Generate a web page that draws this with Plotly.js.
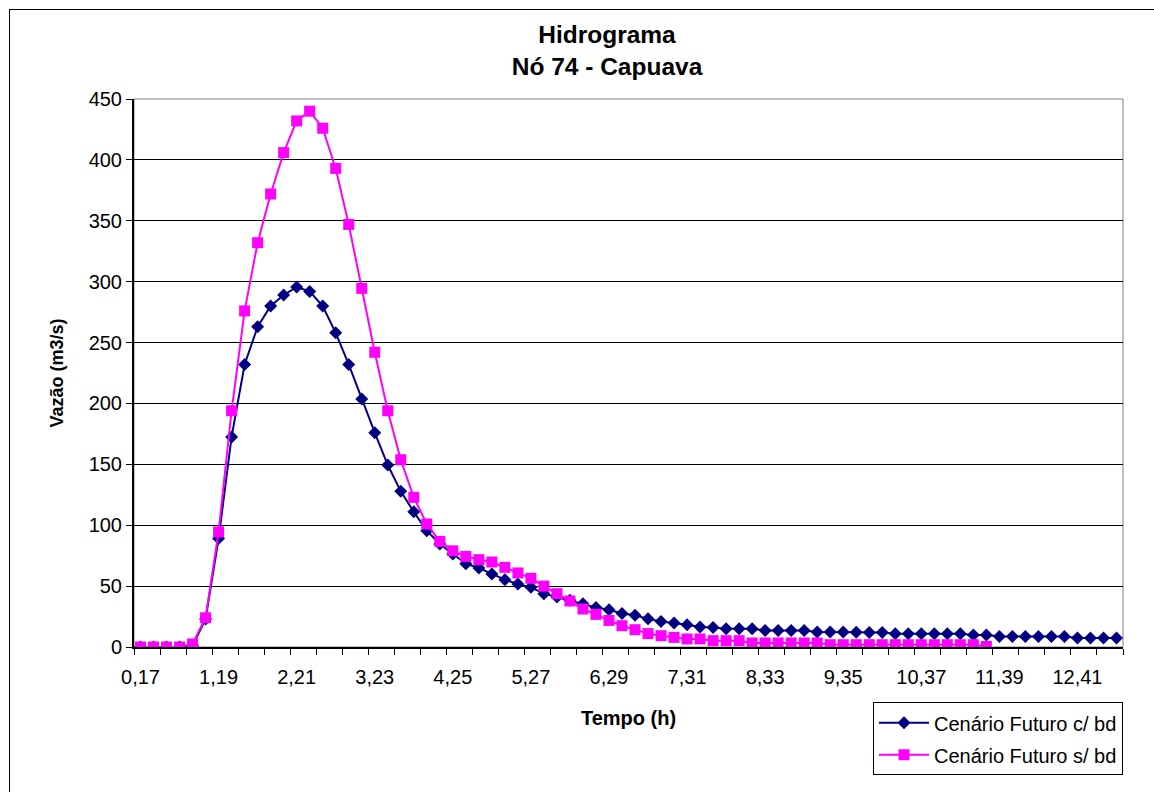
<!DOCTYPE html>
<html>
<head>
<meta charset="utf-8">
<script src="https://cdn.plot.ly/plotly-3.0.1.min.js"></script>
<style>
  html, body { margin: 0; padding: 0; background: #fff; }
  #wrap { position: relative; width: 1154px; height: 792px; overflow: hidden; }
  #chart { width: 1154px; height: 792px; }
  #frame { position: absolute; left: 9px; top: 9px; width: 1200px; height: 800px;
           border-left: 1px solid #000; border-top: 1px solid #000; pointer-events: none; }
</style>
</head>
<body>
<div id="wrap">
  <div id="chart"></div>
  <div id="frame"></div>
</div>
<script>
// Time categories (h)
const times = [0.17,0.34,0.51,0.68,0.85,1.02,1.19,1.36,1.53,1.70,1.87,2.04,2.21,2.38,2.55,2.72,2.89,3.06,3.23,3.40,
  3.57,3.74,3.91,4.08,4.25,4.42,4.59,4.76,4.93,5.10,5.27,5.44,5.61,5.78,5.95,6.12,6.29,6.46,6.63,6.80,
  6.97,7.14,7.31,7.48,7.65,7.82,7.99,8.16,8.33,8.50,8.67,8.84,9.01,9.18,9.35,9.52,9.69,9.86,10.03,10.20,
  10.37,10.54,10.71,10.88,11.05,11.22,11.39,11.56,11.73,11.90,12.07,12.24,12.41,12.58,12.75,12.92];

// Cenário Futuro c/ bd (m3/s)
const comBD = [0,0,0,0,1,23,89,172.5,232,263,
  280,289,295.6,292,280,258,232,203.6,176,149.4,
  127.8,111,95.5,84.6,76.4,68.4,64.9,60,55.3,51.7,
  49,43.8,41,38.3,35.6,32.5,30.6,27.5,26,23.1,
  21,19.7,18.3,16.4,16.1,15,15,15,13.6,13.6,
  13.6,13.6,12.3,12.3,12.3,12.2,12,12,10.9,10.9,
  10.9,10.9,10.9,10.9,9.8,9.8,8.7,8.7,8.7,8.7,
  8.7,8.7,7.4,7.4,7.4,7.4];

// Cenário Futuro s/ bd (m3/s)
const semBD = [0,0,0,0,2.5,24,94.5,194,276,332,
  372,406,432,440,426,393,347,294.5,242,194,
  153.8,122.9,101,86.7,79,74.4,71.7,69.8,65.4,60.8,
  56.4,50,43.8,37.8,31.2,26.8,21.8,17.5,14.2,11,
  9.3,7.9,6.6,6.6,5.2,5.2,5.2,3.3,3.3,3.3,
  3.3,3.3,3.3,1.9,1.9,1.9,1.9,1.9,1.9,1.9,
  1.9,1.9,1.9,1.9,1.9,0.5];

// Tick labels
const tickTimes = [0.17,1.19,2.21,3.23,4.25,5.27,6.29,7.31,8.33,9.35,10.37,11.39,12.41];
const tickLabels = ["0,17","1,19","2,21","3,23","4,25","5,27","6,29","7,31","8,33","9,35","10,37","11,39","12,41"];

const FONT = "Liberation Sans, Arial, sans-serif";
const half = (times[1] - times[0]) / 2;

const traces = [
  {
    x: times.slice(0, comBD.length), y: comBD,
    name: "Cenário Futuro c/ bd", type: "scatter", mode: "lines+markers",
    line: {color: "#000080", width: 2},
    marker: {symbol: "diamond", size: 10, color: "#000080"},
    legendgroup: "a"
  },
  {
    x: times.slice(0, semBD.length), y: semBD,
    name: "Cenário Futuro s/ bd", type: "scatter", mode: "lines+markers",
    line: {color: "#FF00FF", width: 2},
    marker: {symbol: "square", size: 11, color: "#FF00FF"},
    legendgroup: "b"
  }
];

const layout = {
  width: 1154, height: 792,
  paper_bgcolor: "rgba(0,0,0,0)", plot_bgcolor: "#fff",
  margin: {l: 134, r: 30.5, t: 99, b: 144.7},
  font: {family: FONT, color: "#000", size: 20},
  title: {
    text: "<b>Hidrograma</b><br><b>Nó 74 - Capuava</b>",
    font: {family: FONT, size: 24.5, color: "#000"},
    x: 607 / 1154, xanchor: "center", y: 0.946, yanchor: "top"
  },
  xaxis: {
    range: [times[0] - half, times[times.length - 1] + half],
    tickmode: "array", tickvals: tickTimes, ticktext: tickLabels,
    ticks: "", showgrid: false, zeroline: false,
    showline: true, linecolor: "#000", linewidth: 2,
    ticklabelstandoff: 11,
    tickfont: {size: 20, family: FONT, color: "#000"},
    minor: {tick0: times[0] - half, dtick: 2 * (times[1] - times[0]), ticks: "outside", ticklen: 6, tickcolor: "#000", tickwidth: 1, showgrid: false},
    title: {text: "<b>Tempo (h)</b>", font: {family: FONT, size: 20, color: "#000"}, standoff: 24}
  },
  yaxis: {
    range: [0, 450], dtick: 50, tick0: 0,
    ticks: "outside", ticklen: 6, tickcolor: "#000",
    showgrid: true, gridcolor: "#000", gridwidth: 1,
    zeroline: false, showline: true, linecolor: "#000", linewidth: 2,
    tickfont: {size: 20, family: FONT, color: "#000"},
    title: {text: "<b>Vazão (m3/s)</b>", font: {family: FONT, size: 18, color: "#000"}, standoff: 20}
  },
  legend: {
    x: 1, xanchor: "right", y: -0.101, yanchor: "top",
    bgcolor: "#fff", bordercolor: "#000", borderwidth: 1,
    font: {family: FONT, size: 20, color: "#000"},
    tracegroupgap: 3, itemwidth: 50
  },
  shapes: [
    {type: "rect", xref: "paper", yref: "paper", x0: 0, x1: 1, y0: 0, y1: 1,
     line: {color: "#808080", width: 1}, layer: "below"}
  ],
  showlegend: true
};

Plotly.newPlot("chart", traces, layout, {displayModeBar: false, staticPlot: true});
</script>
</body>
</html>
